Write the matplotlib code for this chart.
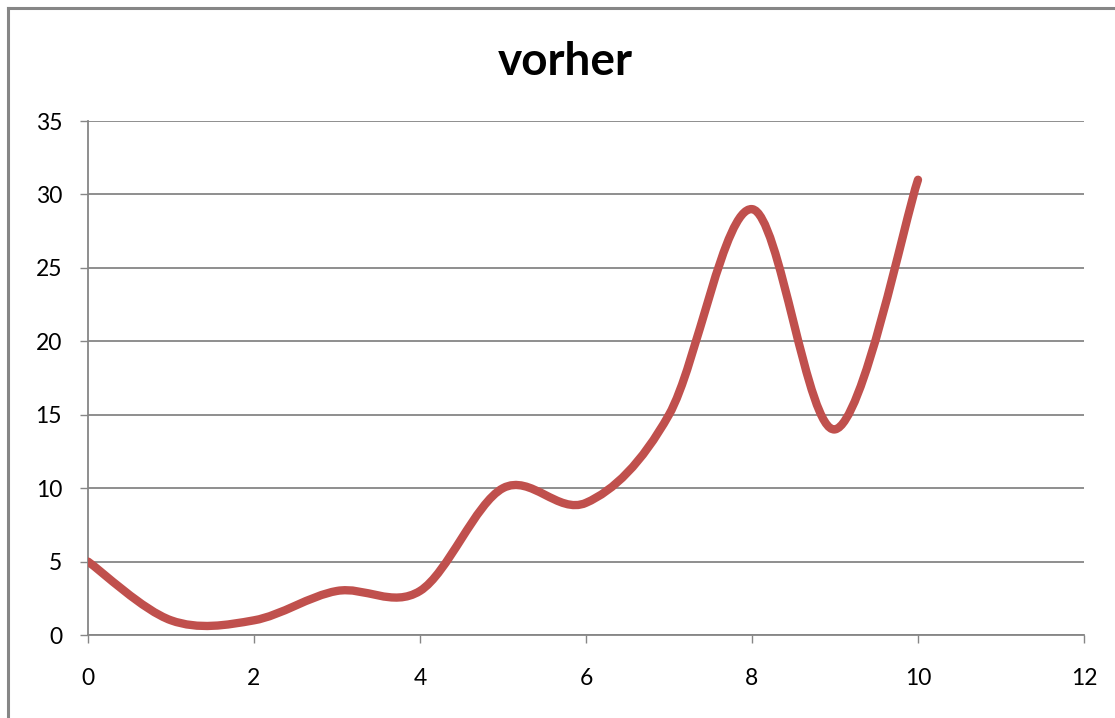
import matplotlib
matplotlib.use("Agg")
import matplotlib.pyplot as plt
from matplotlib.path import Path
from matplotlib.patches import PathPatch
from matplotlib.lines import Line2D
import numpy as np

x_values = [0, 1, 2, 3, 4, 5, 6, 7, 8, 9, 10]
y_values = [5, 1, 1, 3, 3, 10, 9, 15, 29, 14, 31]
x_ticks = [0, 2, 4, 6, 8, 10, 12]
y_ticks = [0, 5, 10, 15, 20, 25, 30, 35]
title = "vorher"

line_color = "#C0504D"
grid_color = "#868686"

fig = plt.figure(figsize=(11.15, 7.18), dpi=100)
ax = fig.add_axes([88/1115, 1 - 635/718, (1084-88)/1115, (635-121)/718])

# smoothed line (Excel-style Bezier smoothing)
pts = np.column_stack([x_values, y_values]).astype(float)
n = len(pts)
verts = [tuple(pts[0])]
codes = [Path.MOVETO]
for i in range(n - 1):
    p0 = pts[i - 1] if i > 0 else pts[i]
    p1 = pts[i]
    p2 = pts[i + 1]
    p3 = pts[i + 2] if i + 2 < n else pts[i + 1]
    c1 = p1 + (p2 - p0) / 6.0
    c2 = p2 - (p3 - p1) / 6.0
    verts += [tuple(c1), tuple(c2), tuple(p2)]
    codes += [Path.CURVE4] * 3
patch = PathPatch(Path(verts, codes), facecolor="none", edgecolor=line_color,
                  lw=6.0, capstyle="round", joinstyle="round", zorder=3)
ax.add_patch(patch)

ax.set_xlim(0, 12)
ax.set_ylim(0, 35)
ax.set_xticks(x_ticks)
ax.set_yticks(y_ticks)
ax.set_xticklabels([str(v) for v in x_ticks])
ax.set_yticklabels([str(v) for v in y_ticks])

ax.yaxis.grid(True, color=grid_color, lw=1.3)
ax.set_axisbelow(True)
for s in ["top", "right"]:
    ax.spines[s].set_visible(False)
for s in ["left", "bottom"]:
    ax.spines[s].set_color(grid_color)
    ax.spines[s].set_linewidth(1.3)

ax.tick_params(axis="both", direction="out", color=grid_color, width=1.0,
               length=6, labelsize=16.5)
ax.tick_params(axis="x", pad=17.5)
ax.tick_params(axis="y", pad=12.7)
for lbl in ax.get_xticklabels() + ax.get_yticklabels():
    lbl.set_fontfamily("Lato")

fig.text(565/1115, 1 - 75/718, title, ha="center", va="baseline",
         fontsize=33, fontweight="bold", family="Lato")

# chart border (left and top)
fig.add_artist(Line2D([8/1115, 8/1115], [0, 1 - 8/718], color=grid_color,
                      lw=2.2, transform=fig.transFigure))
fig.add_artist(Line2D([8/1115, 1], [1 - 8/718, 1 - 8/718], color=grid_color,
                      lw=2.2, transform=fig.transFigure))

fig.savefig("out.png", dpi=100)
